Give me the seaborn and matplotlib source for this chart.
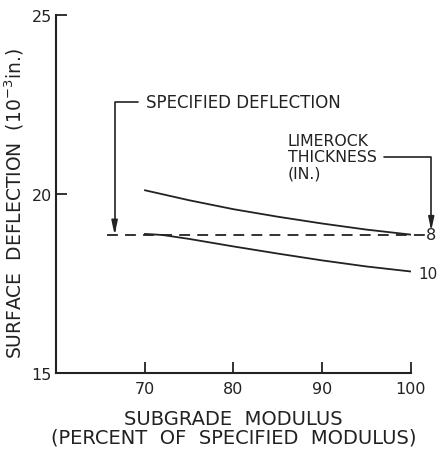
import matplotlib
matplotlib.use("Agg")
import matplotlib.pyplot as plt
import seaborn as sns
import pandas as pd

# ---- data ----
modulus_8 = [70, 75, 80, 85, 90, 95, 100]
deflection_8 = [20.10, 19.82, 19.57, 19.36, 19.17, 19.00, 18.86]
modulus_10 = [70, 72, 75, 80, 85, 90, 95, 100]
deflection_10 = [18.88, 18.85, 18.74, 18.53, 18.33, 18.14, 17.97, 17.83]
specified_x = [65.7, 101.6]
specified_y = [18.85, 18.85]
x_ticks = [70, 80, 90, 100]
y_ticks = [15, 20, 25]
thickness_labels = ["8", "10"]

sns.set_theme(style="ticks")
plt.rcParams['font.family'] = ['DejaVu Sans']

fig = plt.figure(figsize=(4.38, 4.52), dpi=100)
ax = fig.add_axes([0.128, 0.173, 0.810, 0.792])

df8 = pd.DataFrame({"x": modulus_8, "y": deflection_8})
df10 = pd.DataFrame({"x": modulus_10, "y": deflection_10})
dfs = pd.DataFrame({"x": specified_x, "y": specified_y})

ink = "#222222"
sns.lineplot(data=df8, x="x", y="y", ax=ax, color=ink, lw=1.3)
sns.lineplot(data=df10, x="x", y="y", ax=ax, color=ink, lw=1.3)
sns.lineplot(data=dfs, x="x", y="y", ax=ax, color=ink, lw=1.3)
ax.lines[-1].set_dashes([6, 4])
ax.lines[-1].set_clip_on(False)

ax.set_xlim(60, 100)
ax.set_ylim(15, 25)
ax.set_xticks(x_ticks)
ax.set_yticks(y_ticks)
ax.tick_params(direction="in", length=8, width=1.3, colors=ink, labelsize=11.5)
ax.tick_params(axis="x", pad=6)
ax.tick_params(axis="y", pad=3)
sns.despine(ax=ax)
for s in ["left", "bottom"]:
    ax.spines[s].set_linewidth(1.5)
    ax.spines[s].set_color(ink)

ax.set_xlabel("SUBGRADE  MODULUS\n(PERCENT  OF  SPECIFIED  MODULUS)",
              fontsize=14, color=ink, linespacing=1.0, labelpad=9)
ax.set_ylabel("SURFACE  DEFLECTION  (10$^{-3}$in.)", fontsize=13.5, color=ink)
ax.yaxis.set_label_coords(-0.085, 0.475)

arrow = dict(arrowstyle="-|>,head_length=0.7,head_width=0.15", color=ink, lw=1.2,
             connectionstyle="angle,angleA=180,angleB=90,rad=0",
             shrinkA=3, shrinkB=0)
ax.annotate("SPECIFIED DEFLECTION", xy=(66.6, specified_y[0]), xytext=(70.1, 22.57),
            ha="left", va="center", fontsize=12, color=ink,
            arrowprops=arrow, annotation_clip=False)
ax.annotate("LIMEROCK\nTHICKNESS\n(IN.)", xy=(102.3, 18.97), xytext=(86.1, 21.03),
            ha="left", va="center", fontsize=11.3, color=ink, linespacing=1.1,
            arrowprops=arrow, annotation_clip=False)

ax.text(101.7, deflection_8[-1], thickness_labels[0], ha="left", va="center",
        fontsize=11.5, color=ink, clip_on=False)
ax.text(100.8, deflection_10[-1] - 0.05, thickness_labels[1], ha="left", va="center",
        fontsize=11, color=ink, clip_on=False)

fig.savefig("out.png", dpi=100)
